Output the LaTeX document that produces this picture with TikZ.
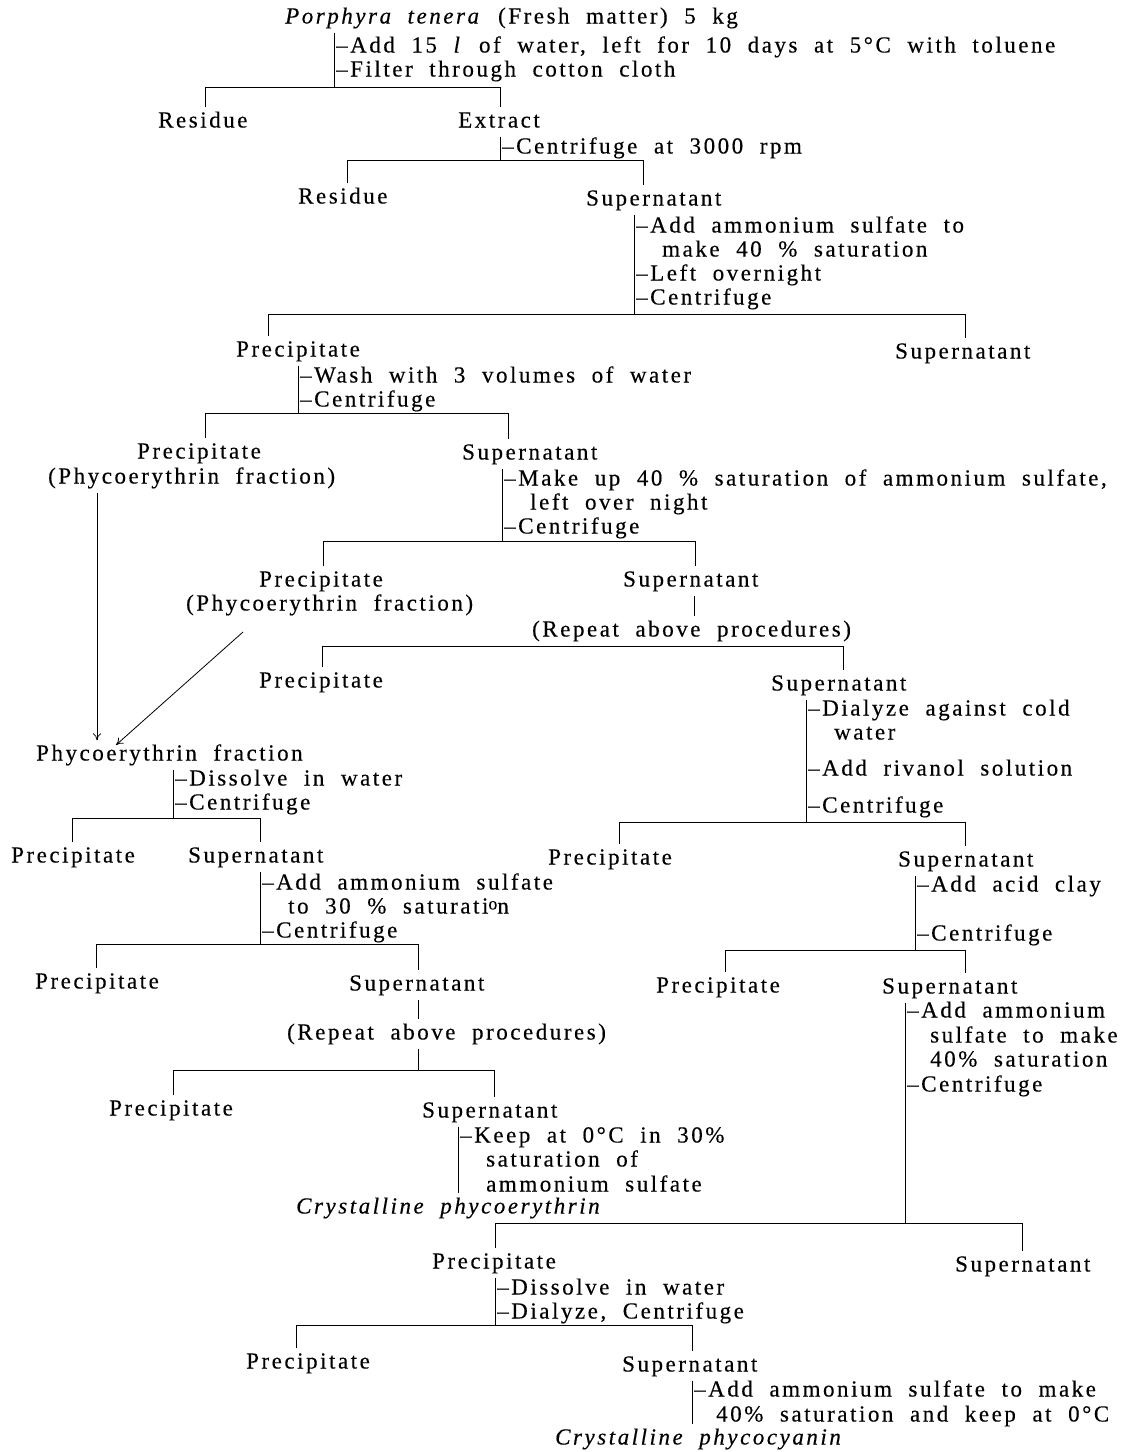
\documentclass[tikz,border=0pt]{standalone}
\usepackage{fontspec}
\setmainfont{Liberation Serif}[LetterSpace=11,WordSpace=2.0,FakeBold=0.3]
\usetikzlibrary{arrows.meta}
\begin{document}
\begin{tikzpicture}[x=1pt,y=-1pt]
\tikzset{
  lbl/.style={anchor=west, inner xsep=0pt, inner ysep=4pt, text height=16pt, text depth=5pt, font=\fontsize{23}{26}\selectfont},
  ln/.style={line width=0.8pt},
  arr/.style={line width=0.8pt, -{To[length=7pt,width=8pt]}}
}
\useasboundingbox[fill=white] (0,0) rectangle (1123,1452);

% ---------- top ----------
\node[lbl] (top) at (285,18) {\textit{Porphyra tenera} (Fresh matter) 5 kg};
\node[lbl] (a1) at (336,47) {--Add 15 \textit{l} of water, left for 10 days at 5°C with toluene};
\node[lbl] (a2) at (336,71) {--Filter through cotton cloth};
\coordinate (s1) at (334,87);
\coordinate (b1l) at (205,87); \coordinate (b1r) at (500,87);
\node[lbl] (res1) at (158,122) {Residue};
\node[lbl] (ext) at (458,122) {Extract};
\draw[ln] (top.south -| s1) -- (s1);
\draw[ln] (res1.north -| b1l) -- (b1l) -- (b1r) -- (ext.north -| b1r);

% ---------- extract ----------
\node[lbl] (c2) at (502,148) {--Centrifuge at 3000 rpm};
\coordinate (s2) at (500,160);
\coordinate (b2l) at (347,160); \coordinate (b2r) at (643,160);
\node[lbl] (res2) at (298,198) {Residue};
\node[lbl] (sup2) at (586,200) {Supernatant};
\draw[ln] (ext.south -| s2) -- (s2);
\draw[ln] (res2.north -| b2l) -- (b2l) -- (b2r) -- (sup2.north -| b2r);

% ---------- sup2 ----------
\node[lbl] (c3a) at (636,227) {--Add ammonium sulfate to};
\node[lbl] (c3b) at (662,251) {make 40 \% saturation};
\node[lbl] (c3c) at (636,275) {--Left overnight};
\node[lbl] (c3d) at (636,299) {--Centrifuge};
\coordinate (s3) at (634,314);
\coordinate (b3l) at (268,314); \coordinate (b3r) at (965,314);
\node[lbl] (pre3) at (236,351) {Precipitate};
\node[lbl] (sup3) at (895,353) {Supernatant};
\draw[ln] (sup2.south -| s3) -- (s3);
\draw[ln] (pre3.north -| b3l) -- (b3l) -- (b3r) -- (sup3.north -| b3r);

% ---------- pre3 ----------
\node[lbl] (c4a) at (300,377) {--Wash with 3 volumes of water};
\node[lbl] (c4b) at (300,401) {--Centrifuge};
\coordinate (s4) at (298,413);
\coordinate (b4l) at (205,413); \coordinate (b4r) at (508,413);
\node[lbl] (pre4) at (137,453) {Precipitate};
\node[lbl] (pre4b) at (48,478) {(Phycoerythrin fraction)};
\node[lbl] (sup4) at (462,454) {Supernatant};
\draw[ln] (pre3.south -| s4) -- (s4);
\draw[ln] (pre4.north -| b4l) -- (b4l) -- (b4r) -- (sup4.north -| b4r);

% ---------- sup4 ----------
\node[lbl] (c5a) at (504,480) {--Make up 40 \% saturation of ammonium sulfate,};
\node[lbl] (c5b) at (530,504) {left over night};
\node[lbl] (c5c) at (504,528) {--Centrifuge};
\coordinate (s5) at (502,541);
\coordinate (b5l) at (323,541); \coordinate (b5r) at (695,541);
\node[lbl] (pre5) at (259,581) {Precipitate};
\node[lbl] (pre5b) at (186,605) {(Phycoerythrin fraction)};
\node[lbl] (sup5) at (623,581) {Supernatant};
\draw[ln] (sup4.south -| s5) -- (s5);
\draw[ln] (pre5.north -| b5l) -- (b5l) -- (b5r) -- (sup5.north -| b5r);

% ---------- sup5 ----------
\node[lbl] (rep5) at (532,631) {(Repeat above procedures)};
\coordinate (s6) at (694,620);
\draw[ln] (sup5.south -| s6) -- (rep5.north -| s6);
\coordinate (b6l) at (322,646); \coordinate (b6r) at (843,646);
\node[lbl] (pre6) at (259,682) {Precipitate};
\node[lbl] (sup6) at (771,685) {Supernatant};
\draw[ln] (pre6.north -| b6l) -- (b6l) -- (b6r) -- (sup6.north -| b6r);

% ---------- sup6 ----------
\node[lbl] (c7a) at (808,710) {--Dialyze against cold};
\node[lbl] (c7b) at (834,734) {water};
\node[lbl] (c7c) at (808,770) {--Add rivanol solution};
\node[lbl] (c7d) at (808,807) {--Centrifuge};
\coordinate (s7) at (806,822);
\coordinate (b7l) at (619,822); \coordinate (b7r) at (965,822);
\node[lbl] (pre7) at (548,859) {Precipitate};
\node[lbl] (sup7) at (898,861) {Supernatant};
\draw[ln] (sup6.south -| s7) -- (s7);
\draw[ln] (pre7.north -| b7l) -- (b7l) -- (b7r) -- (sup7.north -| b7r);

% ---------- sup7 ----------
\node[lbl] (c8a) at (917,886) {--Add acid clay};
\node[lbl] (c8b) at (917,935) {--Centrifuge};
\coordinate (s8) at (915,950);
\coordinate (b8l) at (725,950); \coordinate (b8r) at (965,950);
\node[lbl] (pre8) at (656,987) {Precipitate};
\node[lbl] (sup8) at (882,988) {Supernatant};
\draw[ln] (sup7.south -| s8) -- (s8);
\draw[ln] (pre8.north -| b8l) -- (b8l) -- (b8r) -- (sup8.north -| b8r);

% ---------- sup8 ----------
\node[lbl] (c9a) at (907,1012) {--Add ammonium};
\node[lbl] (c9b) at (930,1037) {sulfate to make};
\node[lbl] (c9c) at (930,1061) {40\% saturation};
\node[lbl] (c9d) at (907,1086) {--Centrifuge};
\coordinate (s9) at (905,1223);
\coordinate (b11l) at (495,1223); \coordinate (b11r) at (1022,1223);
\node[lbl] (pre11) at (432,1263) {Precipitate};
\node[lbl] (sup11) at (955,1266) {Supernatant};
\draw[ln] (sup8.south -| s9) -- (s9);
\draw[ln] (pre11.north -| b11l) -- (b11l) -- (b11r) -- (sup11.north -| b11r);

% ---------- pre11 ----------
\node[lbl] (c12a) at (497,1289) {--Dissolve in water};
\node[lbl] (c12b) at (497,1313) {--Dialyze, Centrifuge};
\coordinate (s12) at (495,1325);
\coordinate (b12l) at (296,1325); \coordinate (b12r) at (692,1325);
\node[lbl] (pre12) at (246,1363) {Precipitate};
\node[lbl] (sup12) at (622,1366) {Supernatant};
\draw[ln] (pre11.south -| s12) -- (s12);
\draw[ln] (pre12.north -| b12l) -- (b12l) -- (b12r) -- (sup12.north -| b12r);

% ---------- sup12 ----------
\node[lbl] (c13a) at (694,1391) {--Add ammonium sulfate to make};
\node[lbl] (c13b) at (716,1416) {40\% saturation and keep at 0°C};
\node[lbl] (fin2) at (555,1439) {\textit{Crystalline phycocyanin}};
\coordinate (s13) at (692,1400);
\draw[ln] (sup12.south -| s13) -- (fin2.north -| s13);

% ---------- left branch ----------
\node[lbl] (phy) at (36,755) {Phycoerythrin fraction};
\coordinate (ar1) at (97,600);
\draw[arr] (pre4b.south -| ar1) -- (phy.north -| ar1);
\coordinate (d1) at (243,632); \coordinate (d2) at (116,745);
\draw[arr] (d1) -- (d2);

\node[lbl] (c10a) at (175,780) {--Dissolve in water};
\node[lbl] (c10b) at (175,804) {--Centrifuge};
\coordinate (s10) at (173,818);
\coordinate (b9l) at (72,818); \coordinate (b9r) at (260,818);
\node[lbl] (pre9) at (11,857) {Precipitate};
\node[lbl] (sup9) at (188,857) {Supernatant};
\draw[ln] (phy.south -| s10) -- (s10);
\draw[ln] (pre9.north -| b9l) -- (b9l) -- (b9r) -- (sup9.north -| b9r);

\node[lbl] (c11a) at (262,884) {--Add ammonium sulfate};
\node[lbl] (c11b) at (288,908) {to 30 \% saturati\raisebox{4pt}{\fontsize{18}{18}\selectfont o}n};
\node[lbl] (c11c) at (262,932) {--Centrifuge};
\coordinate (s11) at (260,944);
\coordinate (b10l) at (96,944); \coordinate (b10r) at (418,944);
\node[lbl] (pre10) at (35,983) {Precipitate};
\node[lbl] (sup10) at (349,985) {Supernatant};
\draw[ln] (sup9.south -| s11) -- (s11);
\draw[ln] (pre10.north -| b10l) -- (b10l) -- (b10r) -- (sup10.north -| b10r);

\node[lbl] (rep10) at (287,1034) {(Repeat above procedures)};
\coordinate (s10b) at (418,1070);
\draw[ln] (sup10.south -| s10b) -- (rep10.north -| s10b);
\draw[ln] (rep10.south -| s10b) -- (s10b);
\coordinate (b10bl) at (173,1070); \coordinate (b10br) at (494,1070);
\node[lbl] (pre10b) at (109,1110) {Precipitate};
\node[lbl] (sup10b) at (422,1112) {Supernatant};
\draw[ln] (pre10b.north -| b10bl) -- (b10bl) -- (b10br) -- (sup10b.north -| b10br);

\node[lbl] (c14a) at (460,1137) {--Keep at 0°C in 30\%};
\node[lbl] (c14b) at (486,1161) {saturation of};
\node[lbl] (c14c) at (486,1186) {ammonium sulfate};
\node[lbl] (fin1) at (296,1208) {\textit{Crystalline phycoerythrin}};
\coordinate (s14) at (458,1150);
\draw[ln] (sup10b.south -| s14) -- (fin1.north -| s14);
\end{tikzpicture}
\end{document}
